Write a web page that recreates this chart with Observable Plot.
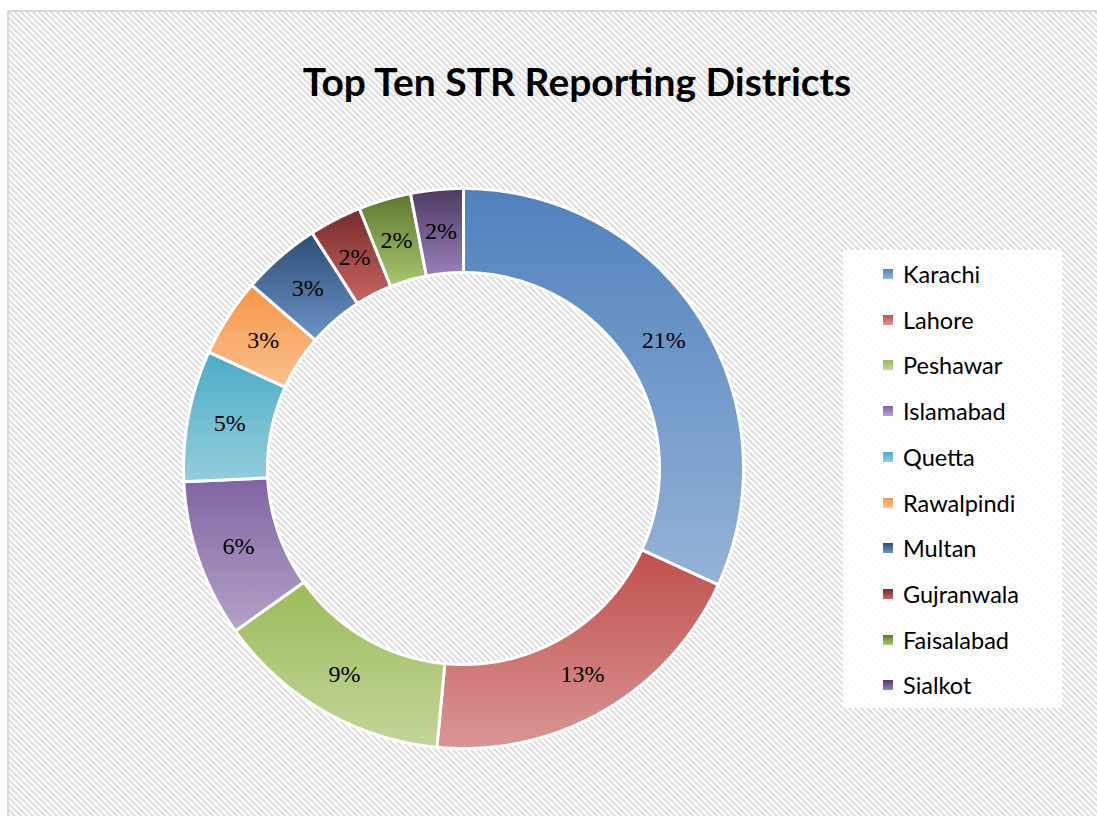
<!DOCTYPE html>
<html>
<head>
<meta charset="utf-8">
<script src="https://cdn.jsdelivr.net/npm/d3@7"></script>
<script src="https://cdn.jsdelivr.net/npm/@observablehq/plot@0.6"></script>
<style>
  html, body { margin: 0; padding: 0; background: #fff; overflow: hidden; scrollbar-width: none; }
  ::-webkit-scrollbar { display: none; width: 0; height: 0; }
  #page { position: absolute; left: 0; top: 0; width: 1097px; height: 816px; overflow: hidden; background: #fff; }
  #frame {
    position: absolute; left: 7px; top: 10px; right: 0; bottom: 0;
    border-left: 2px solid #d9d9d9; border-top: 2px solid #d9d9d9;
    background-color: #fff;
    background-image: url("data:image/svg+xml;utf8,<svg xmlns='http://www.w3.org/2000/svg' width='6' height='6'><path d='M-1 -1 L7 7 M-1 5 L1 7 M5 -1 L7 1' stroke='%23dedede' stroke-width='2.2'/></svg>");
    background-size: 6px 6px;
  }
  #title {
    position: absolute; left: 577px; top: 62px; transform: translateX(-50%);
    font-family: Lato, "Open Sans", sans-serif; font-weight: bold; font-size: 39px;
    line-height: 39px; white-space: nowrap; color: #000;
  }
  #chart { position: absolute; left: 0; top: 0; width: 1097px; height: 816px; }
  #chart svg { display: block; }
  #legend {
    position: absolute; left: 843px; top: 250px; width: 219px; height: 458px;
    background: rgba(255,255,255,0.85);
  }
  .item { position: absolute; left: 0; height: 46px; display: flex; align-items: center;
    font-family: Lato, "Open Sans", sans-serif; font-size: 23.5px; color: #000; white-space: nowrap; }
  .sw { width: 10px; height: 10px; margin-left: 40px; margin-right: 10px; }
</style>
</head>
<body>
<div id="page">
  <div id="frame"></div>
  <div id="title">Top Ten STR Reporting Districts</div>
  <div id="chart"></div>
  <div id="legend"></div>
</div>
<script>
const districts = ["Karachi", "Lahore", "Peshawar", "Islamabad", "Quetta", "Rawalpindi", "Multan", "Gujranwala", "Faisalabad", "Sialkot"];
const shares = [21, 13, 9, 6, 5, 3, 3, 2, 2, 2];
const topColors = ["#4F81BD", "#C0504D", "#9BBB59", "#8064A2", "#4BACC6", "#F79646", "#2C4D75", "#772C2A", "#5F7530", "#4D3B62"];
const bottomColors = ["#95B3D7", "#D99694", "#C3D69B", "#B3A2C7", "#93CDDD", "#FAC090", "#6D93C6", "#C86663", "#A8C870", "#9A80BA"];
const innerRatio = 0.7;

const arcs = d3.pie().sort(null).startAngle(0).endAngle(2 * Math.PI)(shares);

const sliceRows = arcs.map((a, i) => {
  const pts = [];
  const n = Math.max(4, Math.ceil((a.endAngle - a.startAngle) / 0.005));
  for (let k = 0; k <= n; k++) {
    const ang = a.startAngle + (a.endAngle - a.startAngle) * k / n;
    pts.push({slice: i, x: Math.sin(ang), y: Math.cos(ang)});
  }
  for (let k = n; k >= 0; k--) {
    const ang = a.startAngle + (a.endAngle - a.startAngle) * k / n;
    pts.push({slice: i, x: innerRatio * Math.sin(ang), y: innerRatio * Math.cos(ang)});
  }
  return pts;
});

const midR = (1 + innerRatio) / 2;
const labelRows = arcs.map((a, i) => {
  const ang = (a.startAngle + a.endAngle) / 2;
  return {x: midR * Math.sin(ang), y: midR * Math.cos(ang), label: shares[i] + "%"};
});

const svg = Plot.plot({
  width: 1097,
  height: 816,
  margin: 0,
  x: {domain: [-1, 1], range: [183, 743], axis: null},
  y: {domain: [-1, 1], range: [748, 188], axis: null},
  style: {background: "transparent", overflow: "visible"},
  marks: [
    ...sliceRows.map((rows, i) => Plot.line(rows, {
      x: "x", y: "y", curve: "linear-closed",
      fill: `url(#grad${i})`, stroke: "white", strokeWidth: 3, strokeLinejoin: "miter"
    })),
    Plot.text(labelRows, {x: "x", y: "y", text: "label", fontFamily: "Liberation Serif", fontSize: 24, fill: "#000"})
  ]
});

// gradients
const ns = "http://www.w3.org/2000/svg";
const defs = document.createElementNS(ns, "defs");
topColors.forEach((c, i) => {
  const g = document.createElementNS(ns, "linearGradient");
  g.setAttribute("id", "grad" + i);
  g.setAttribute("x1", "0"); g.setAttribute("y1", "0");
  g.setAttribute("x2", "0"); g.setAttribute("y2", "1");
  const s1 = document.createElementNS(ns, "stop");
  s1.setAttribute("offset", "0"); s1.setAttribute("stop-color", c);
  const s2 = document.createElementNS(ns, "stop");
  s2.setAttribute("offset", "1"); s2.setAttribute("stop-color", bottomColors[i]);
  g.appendChild(s1); g.appendChild(s2);
  defs.appendChild(g);
});
svg.insertBefore(defs, svg.firstChild);
document.getElementById("chart").appendChild(svg);

// legend
const legend = document.getElementById("legend");
districts.forEach((name, i) => {
  const item = document.createElement("div");
  item.className = "item";
  item.style.top = (1 + i * 45.7) + "px";
  const sw = document.createElement("div");
  sw.className = "sw";
  sw.style.background = `linear-gradient(${topColors[i]}, ${bottomColors[i]})`;
  const lab = document.createElement("span");
  lab.textContent = name;
  item.appendChild(sw); item.appendChild(lab);
  legend.appendChild(item);
});
</script>
</body>
</html>
